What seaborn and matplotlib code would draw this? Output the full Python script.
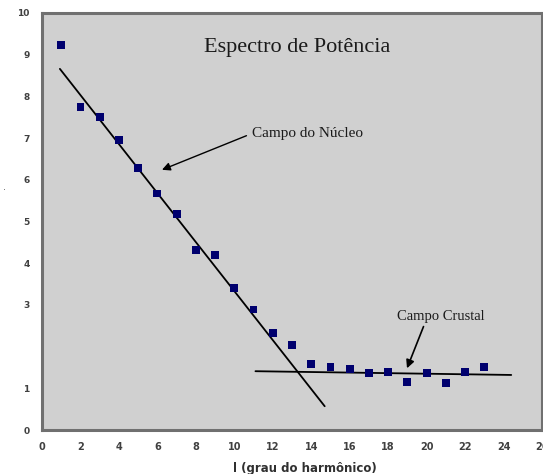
import matplotlib
matplotlib.use("Agg")
import matplotlib.pyplot as plt
import seaborn as sns
import pandas as pd

# Data
harmonic = [1, 2, 3, 4, 5, 6, 7, 8, 9, 10, 11, 12, 13, 14, 15, 16, 17, 18, 19, 20, 21, 22, 23]
power = [9.23, 7.75, 7.51, 6.96, 6.29, 5.67, 5.17, 4.31, 4.19, 3.40, 2.89, 2.32, 2.03,
         1.58, 1.51, 1.46, 1.36, 1.39, 1.15, 1.36, 1.12, 1.39, 1.51]

# Fitted lines (endpoints)
core_x = [0.93, 14.7]
core_y = [8.66, 0.57]
crust_x = [11.1, 24.4]
crust_y = [1.41, 1.32]

xticks = [0, 2, 4, 6, 8, 10, 12, 14, 16, 18, 20, 22, 24, 26]
yticks = [0, 1, 3, 4, 5, 6, 7, 8, 9, 10]

sns.set_theme(style="white")
plt.rcParams['font.family'] = ['DejaVu Sans']

fig = plt.figure(figsize=(5.43, 4.74), dpi=100)
ax = fig.add_axes([42/543, 1-430/474, 500/543, 417/474])
ax.set_facecolor("#d0d0d0")

df = pd.DataFrame({"l": harmonic, "p": power})
sns.lineplot(x=core_x, y=core_y, ax=ax, color="black", lw=1.3)
sns.lineplot(x=crust_x, y=crust_y, ax=ax, color="black", lw=1.3)
sns.scatterplot(data=df, x="l", y="p", ax=ax, marker="s", s=32, color="#00006e",
                edgecolor="none", zorder=5)

ax.set_xlim(0, 26)
ax.set_ylim(0, 10)
ax.set_xticks(xticks)
ax.set_yticks(yticks)
ax.set_xticklabels([str(v) for v in xticks], fontsize=7, color="#404040", fontweight="bold")
ax.set_yticklabels([str(v) for v in yticks], fontsize=6.5, color="#404040", fontweight="bold")
ax.tick_params(length=0, pad=9)

for sp in ax.spines.values():
    sp.set_color("#707070")
    sp.set_linewidth(2.2)

ax.set_ylabel("")
ax.set_xlabel("l (grau do harmônico)", fontsize=8.5, fontweight="bold", color="#303030")
ax.xaxis.set_label_coords((305-42)/500, -(462-430)/417)
fig.text(5/543, 1-187/474, ".", fontsize=7, color="#606060", ha="center", va="center")

serif = ['Liberation Serif', 'DejaVu Serif']
ax.text(13.26, 9.18, "Espectro de Potência", fontsize=16, family=serif, ha="center",
        va="center", color="#1a1a1a")
ax.annotate("Campo do Núcleo", xy=(6.24, 6.24), xytext=(10.92, 7.12), fontsize=11,
            family=serif, ha="left", va="center", color="#1a1a1a",
            arrowprops=dict(arrowstyle="-|>", color="black", lw=1.0, mutation_scale=12,
                            shrinkA=0, shrinkB=0, relpos=(-0.05, 0.3)))
ax.annotate("Campo Crustal", xy=(18.98, 1.48), xytext=(20.75, 2.73), fontsize=10.5,
            family=serif, ha="center", va="center", color="#1a1a1a",
            arrowprops=dict(arrowstyle="-|>", color="black", lw=1.2, mutation_scale=12,
                            shrinkA=0, shrinkB=0, relpos=(0.3, -0.3)))

fig.savefig("out.png", dpi=100, facecolor="white")
